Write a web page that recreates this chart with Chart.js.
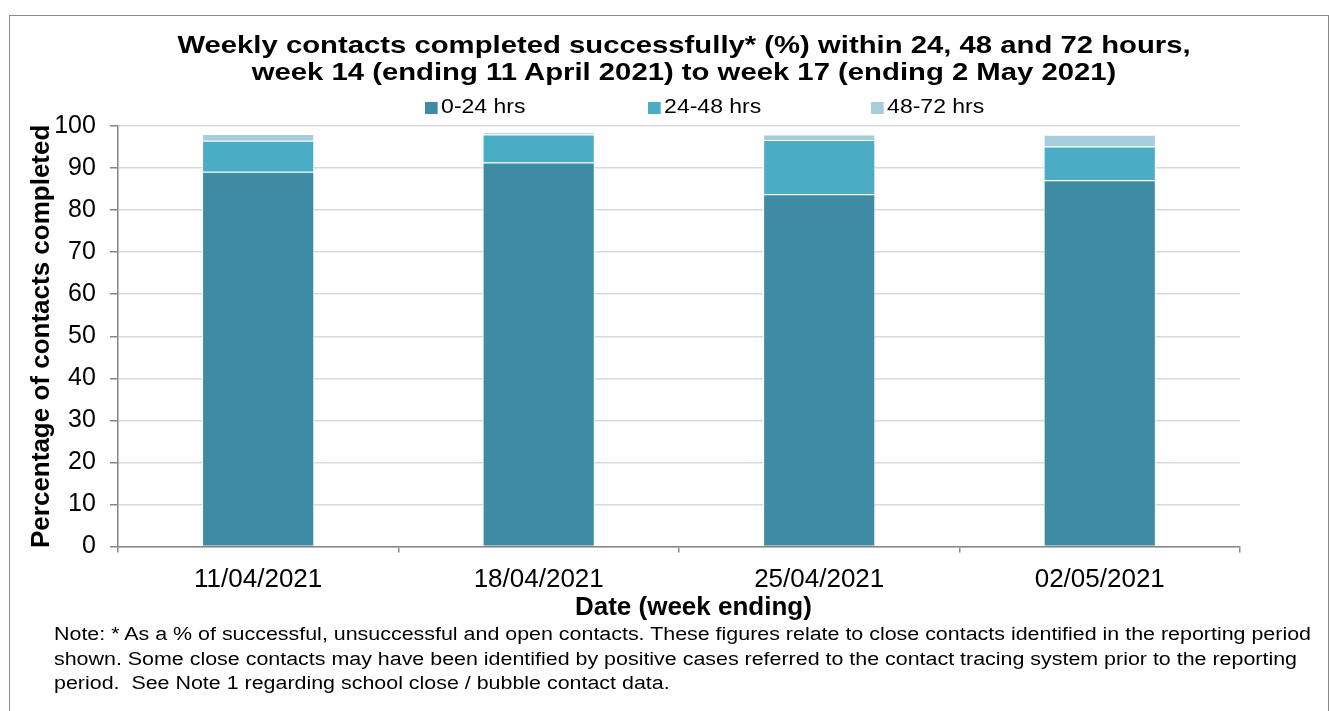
<!DOCTYPE html>
<html>
<head>
<meta charset="utf-8">
<script src="https://cdn.jsdelivr.net/npm/chart.js@4"></script>
<style>
  body { margin: 0; background: #fff; font-family: "Liberation Sans", Arial, sans-serif; }
  #wrap { position: relative; width: 1329px; height: 711px; overflow: hidden; }
  #frame { position: absolute; left: 9px; top: 15px; width: 1320px; height: 720px; border: 1px solid #888; box-sizing: border-box; }
  #contactsChart { position: absolute; left: 0; top: 0; }
  .title { position: absolute; left: 684px; font-size: 24px; font-weight: bold; white-space: nowrap; transform: translateX(-50%) scaleX(1.22); line-height: 27px; }
  .leg { position: absolute; top: 93px; font-size: 20px; line-height: 26px; white-space: nowrap; transform: scaleX(1.15); transform-origin: left center; }
  .leg i { display: inline-block; width: 11px; height: 12px; margin-right: 3px; vertical-align: -1px; }
  #note { position: absolute; left: 54px; top: 622px; font-size: 18px; line-height: 24.5px; white-space: nowrap; transform: scaleX(1.19); transform-origin: left top; }
</style>
</head>
<body>
<div id="wrap">
  <div id="frame"></div>
  <canvas id="contactsChart" width="1329" height="711"></canvas>
  <div class="title" style="top:31px">Weekly contacts completed successfully* (%) within 24, 48 and 72 hours,</div>
  <div class="title" style="top:58px">week 14 (ending 11 April 2021) to week 17 (ending 2 May 2021)</div>
  <div id="legend"></div>
  <div id="note">Note: * As a % of successful, unsuccessful and open contacts. These figures relate to close contacts identified in the reporting period<br>shown. Some close contacts may have been identified by positive cases referred to the contact tracing system prior to the reporting<br>period.&nbsp; See Note 1 regarding school close / bubble contact data.</div>
</div>
<script>
var weeks = ["11/04/2021", "18/04/2021", "25/04/2021", "02/05/2021"];
var seriesNames = ["0-24 hrs", "24-48 hrs", "48-72 hrs"];
var within24 = [89.1, 91.3, 83.8, 87.1];
var within48 = [7.4, 6.7, 12.9, 8.0];
var within72 = [1.6, 0.5, 1.3, 2.8];
var seriesColors = ["#3d8ca4", "#4bacc6", "#a5cddb"];

// legend as html, positioned like the original
var legendX = [425, 648, 871];
seriesNames.forEach((name, i) => {
	const legend = document.getElementById('legend');
	legend.insertAdjacentHTML('beforeend',
		`<div class="leg" style="left:${legendX[i]}px"><i style="background:${seriesColors[i]}"></i>${name}</div>`);
});

Chart.defaults.font.family = '"Liberation Sans", Arial, sans-serif';
Chart.defaults.color = '#000';

const ctx = document.getElementById('contactsChart').getContext('2d');
new Chart(ctx, {
	type: 'bar',
	data: {
		labels: weeks,
		datasets: [within24, within48, within72].map((values, i) => ({
			label: seriesNames[i],
			data: values,
			backgroundColor: seriesColors[i],
			borderColor: '#ffffff',
			borderWidth: 1,
		})),
	},
	options: {
		responsive: false,
		animation: false,
		categoryPercentage: 0.4,
		barPercentage: 1.0,
		layout: {
			padding: { left: 26, right: 89, top: 126, bottom: 88 },
		},
		plugins: {
			legend: { display: false },
			tooltip: { enabled: false },
		},
		scales: {
			x: {
				stacked: true,
				grid: {
					drawOnChartArea: false,
					offset: true,
					tickLength: 6,
					tickColor: '#868686',
					lineWidth: 1.5,
				},
				border: { color: '#868686', width: 1.5 },
				ticks: { font: { size: 26 }, color: '#000', padding: 12 },
				title: {
					display: true,
					text: '\u00a0\u00a0\u00a0\u00a0Date (week ending)',
					font: { size: 26, weight: 'bold' },
					color: '#000',
					padding: { top: -16, bottom: 0 },
				},
			},
			y: {
				stacked: true,
				min: 0,
				max: 100,
				ticks: { stepSize: 10, font: { size: 25 }, color: '#000', padding: 14 },
				grid: {
					color: '#d9d9d9',
					lineWidth: 1.5,
					tickLength: 8,
					tickColor: '#868686',
				},
				border: { color: '#868686', width: 1.5 },
				title: {
					display: true,
					text: 'Percentage of contacts completed',
					font: { size: 26, weight: 'bold' },
					color: '#000',
					padding: { top: 0, bottom: -17 },
				},
			},
		},
	},
});
</script>
</body>
</html>
